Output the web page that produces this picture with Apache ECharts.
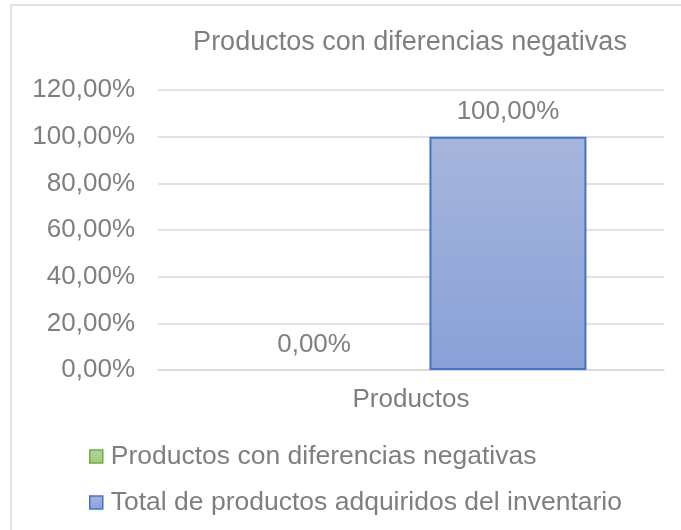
<!DOCTYPE html>
<html>
<head>
<meta charset="utf-8">
<script src="https://cdn.jsdelivr.net/npm/echarts@6/dist/echarts.min.js"></script>
<style>
  html, body { margin: 0; padding: 0; background: #ffffff; }
  #chart { width: 681px; height: 530px; }
</style>
</head>
<body>
<div id="chart"></div>
<script>
// Chart data
const chartTitle = 'Productos con diferencias negativas';
const categories = ['Productos'];
const seriesNames = ['Productos con diferencias negativas', 'Total de productos adquiridos del inventario'];
const negativeDiffValues = [0];
const totalProductValues = [100];
const yTicks = { min: 0, max: 120, interval: 20 };

const fmtPct = v => v.toFixed(2).replace('.', ',') + '%';
const textColor = '#7f7f7f';
const fontFamily = 'Arial, "Liberation Sans", sans-serif';

const chart = echarts.init(document.getElementById('chart'), null, { renderer: 'canvas' });

const grad = (top, bottom) => new echarts.graphic.LinearGradient(0, 0, 0, 1, [
  { offset: 0, color: top },
  { offset: 1, color: bottom }
]);

const greenFill = grad('#b5d5a0', '#9ccb7e');
const blueFill = grad('#a7b5dc', '#88a1d8');

chart.setOption({
  animation: false,
  backgroundColor: '#ffffff',
  graphic: [
    {
      // chart area frame
      type: 'rect',
      shape: { x: 11, y: 5, width: 720, height: 560 },
      style: { fill: 'none', stroke: '#d9d9d9', lineWidth: 1.5 },
      silent: true,
      z: -1
    },
    {
      // title, centred over the plot area
      type: 'text',
      x: 410,
      y: 43,
      style: {
        text: chartTitle,
        fill: textColor,
        fontSize: 27,
        fontFamily,
        verticalAlign: 'middle',
        align: 'center'
      },
      silent: true
    }
  ],
  grid: { left: 158, right: 17, top: 90, bottom: 160, containLabel: false },
  xAxis: {
    type: 'category',
    data: categories,
    axisLine: { show: true, lineStyle: { color: '#d9d9d9', width: 1.5 } },
    axisTick: { show: false },
    axisLabel: { color: textColor, fontSize: 26, fontFamily, margin: 17 }
  },
  yAxis: {
    type: 'value',
    min: yTicks.min,
    max: yTicks.max,
    interval: yTicks.interval,
    axisLine: { show: false },
    axisTick: { show: false },
    splitLine: { lineStyle: { color: '#d9d9d9', width: 1.5 } },
    axisLabel: { color: textColor, fontSize: 26, fontFamily, margin: 23, formatter: fmtPct }
  },
  legend: {
    orient: 'vertical',
    left: 89,
    top: 443,
    padding: 0,
    itemWidth: 13,
    itemHeight: 13,
    itemGap: 19,
    icon: 'rect',
    textStyle: { color: textColor, fontSize: 26.5, fontFamily, padding: [0, 0, 0, 3] },
    data: [
      { name: seriesNames[0], itemStyle: { color: greenFill, borderColor: '#70ad47', borderWidth: 1.5 } },
      { name: seriesNames[1], itemStyle: { color: blueFill, borderColor: '#4472c4', borderWidth: 1.5 } }
    ]
  },
  series: [
    {
      name: seriesNames[0],
      type: 'bar',
      data: negativeDiffValues,
      barWidth: 157,
      barGap: '23.5%',
      itemStyle: { color: greenFill, borderWidth: 0 },
      label: {
        show: true, position: 'top', distance: 12,
        color: textColor, fontSize: 26, fontFamily,
        formatter: p => fmtPct(p.value)
      }
    },
    {
      name: seriesNames[1],
      type: 'bar',
      data: totalProductValues,
      barWidth: 157,
      itemStyle: { color: blueFill, borderColor: '#4472c4', borderWidth: 2 },
      label: {
        show: true, position: 'top', distance: 12,
        color: textColor, fontSize: 26, fontFamily,
        formatter: p => fmtPct(p.value)
      }
    }
  ]
});
</script>
</body>
</html>
